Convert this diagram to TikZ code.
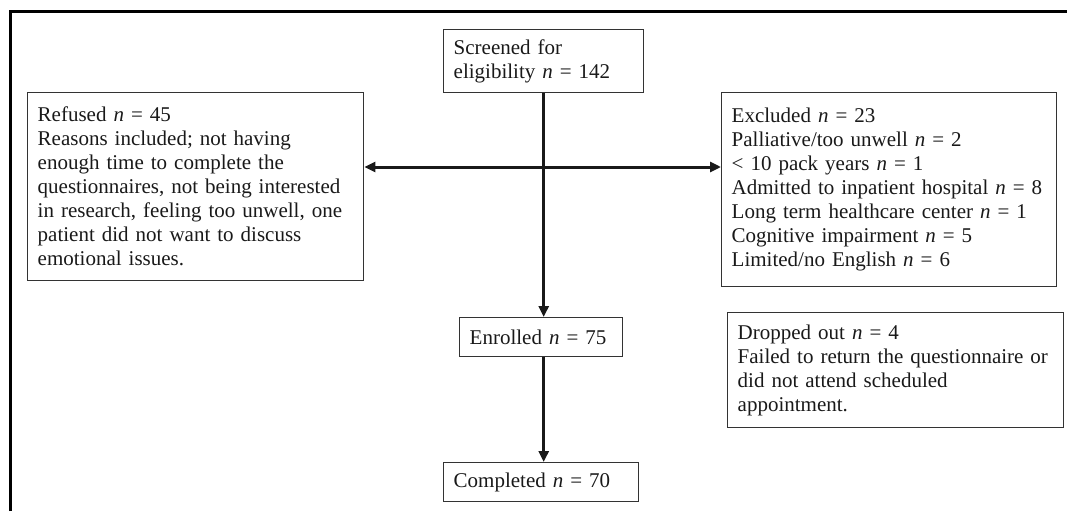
\documentclass[tikz,border=0pt]{standalone}
\usepackage{fontspec}
\setmainfont{Liberation Serif}
\usetikzlibrary{arrows.meta, positioning, calc}
\definecolor{mainBlack}{gray}{0.1}
\definecolor{subGray}{gray}{0.2}
\newcommand{\nval}[1]{\textit{n} = #1}

\begin{document}
\begin{tikzpicture}[x=1pt, y=-1pt, >={Triangle[length=11pt, width=10pt]},
    box/.style={draw=subGray, line width=1.4pt, align=left, text=mainBlack,
        font=\fontsize{21}{24}\selectfont, inner xsep=10pt, inner ysep=0pt, anchor=north west},
    flow/.style={line width=3pt, draw=mainBlack}]
    \useasboundingbox (0,0) rectangle (1067,511);

    % outer frame (open at right and bottom)
    \draw[line width=3pt] (10,511) -- (10,12) -- (1067,12);

    % boxes
    \node[box, text width=180pt, minimum height=63pt] (screen) at (443,29)
        {Screened for\\eligibility \nval{142}};
    \node[box, text width=316pt, minimum height=188pt] (refused) at (27,92)
        {Refused \nval{45}\\Reasons included; not having\\enough time to complete the\\questionnaires, not being interested\\in research, feeling too unwell, one\\patient did not want to discuss\\emotional issues.};
    \node[box, text width=315pt, minimum height=194pt] (excluded) at (721,92)
        {Excluded \nval{23}\\Palliative/too unwell \nval{2}\\< 10 pack years \nval{1}\\Admitted to inpatient hospital \nval{8}\\Long term healthcare center \nval{1}\\Cognitive impairment \nval{5}\\Limited/no English \nval{6}};
    \node[box, text width=143pt, minimum height=39pt] (enrolled) at (459,317)
        {Enrolled \nval{75}};
    \node[box, text width=175pt, minimum height=39pt] (completed) at (443,462)
        {Completed \nval{70}};
    \node[box, text width=316pt, minimum height=115pt] (dropped) at (727,312)
        {Dropped out \nval{4}\\Failed to return the questionnaire or\\did not attend scheduled\\appointment.};

    % connectors
    \coordinate (cross) at (543,167);
    \draw[flow, <->] (cross -| refused.east) -- (cross -| excluded.west);
    \draw[flow, ->] (screen.south) -- (screen.south |- enrolled.north);
    \draw[flow, ->] (enrolled.south -| screen.south) -- (screen.south |- completed.north);
\end{tikzpicture}
\end{document}
